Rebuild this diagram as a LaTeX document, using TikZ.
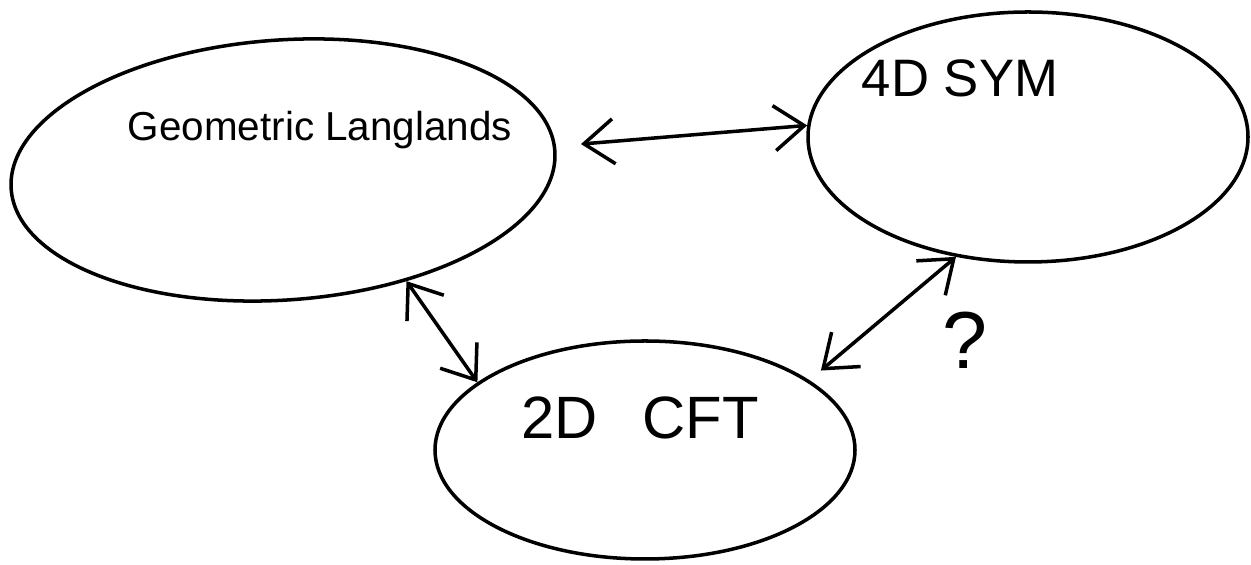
\documentclass[tikz,border=0pt]{standalone}
\usepackage{fontspec}
\setmainfont{Liberation Sans}
\usepackage{tikz}
\usetikzlibrary{shapes,arrows.meta}

\tikzset{
  blob/.style={draw, ellipse, line width=2pt, inner sep=0pt},
  hand/.style={inner sep=1pt},
  link/.style={line width=2pt, {Straight Barb[length=6mm,width=9mm]}-{Straight Barb[length=6mm,width=9mm]}}
}

\begin{document}
\begin{tikzpicture}
\useasboundingbox (0,0) rectangle (25.02,11.3);
    \node (GL) [blob, rotate=4, minimum width=10.9cm, minimum height=5.2cm] at (5.66,7.9) {};
    \node (SYM) [blob, minimum width=8.8cm, minimum height=5.0cm] at (20.56,8.56) {};
    \node (CFT) [blob, minimum width=8.4cm, minimum height=4.36cm] at (12.9,2.3) {};
    \node (GLtext) [hand, font=\fontsize{23}{27}\selectfont] at (6.4,8.7) {Geometric Langlands};
    \node (SYMtext) [hand, font=\fontsize{30}{36}\selectfont] at (19.2,9.74) {4D SYM};
    \node (CFTtext) [hand, font=\fontsize{34}{40}\selectfont] at (12.8,2.95) {2D\hspace{0.9cm}CFT};
    \node (Q) [hand, font=\fontsize{46}{52}\selectfont] at (19.3,4.5) {?};
    \draw[link, shorten <=0.5cm] (GL.1) -- (SYM.177);
    \draw[link] (GL.-46) -- (CFT.158);
    \draw[link, shorten >=0.3cm] (SYM.239) -- (CFT.23);
\end{tikzpicture}
\end{document}
